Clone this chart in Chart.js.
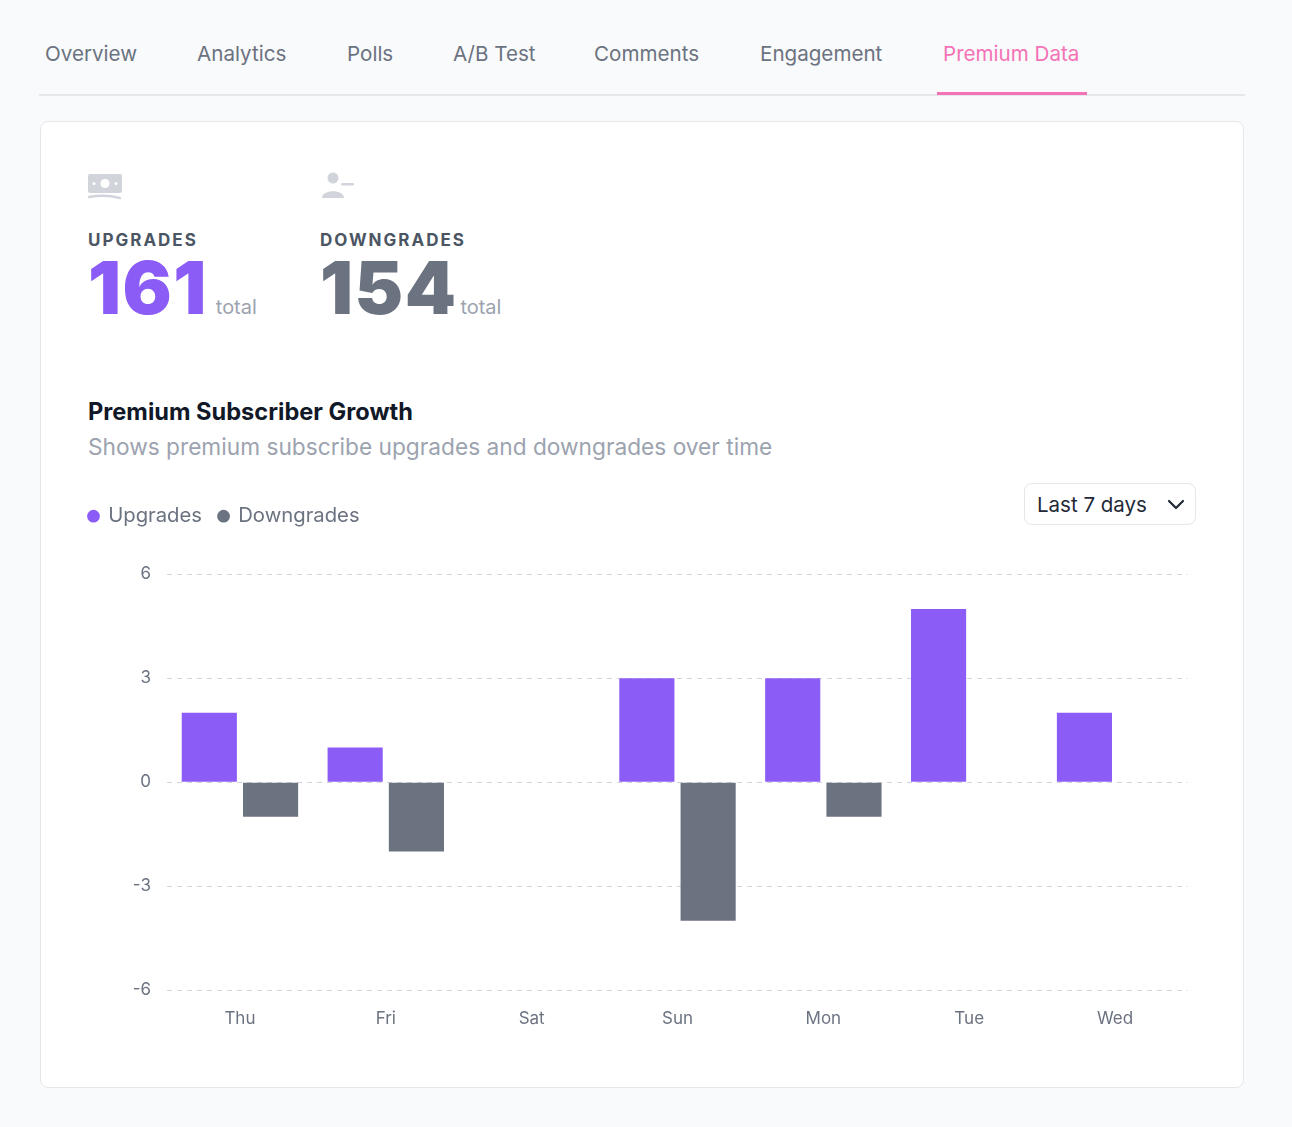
<!DOCTYPE html>
<html>
<head>
<meta charset="utf-8">
<script src="https://cdn.jsdelivr.net/npm/chart.js@4.4.1/dist/chart.umd.min.js"></script>
<style>
  html,body{margin:0;padding:0;}
  body{width:1292px;height:1127px;background:#f9fafb;font-family:"Inter","Noto Sans",sans-serif;position:relative;overflow:hidden;}
  .abs{position:absolute;white-space:nowrap;}
  .tab{font-size:20.6px;line-height:24px;top:42px;color:#6b7280;}
  .tab.active{color:#f472b6;}
  .card{position:absolute;left:40px;top:121px;width:1204px;height:967px;background:#fff;border:1px solid #e5e7eb;border-radius:8px;box-sizing:border-box;}
  .lbl{font-size:17px;font-weight:700;letter-spacing:2px;color:#4b5563;line-height:20px;top:230px;}
  .num{font-size:73px;font-weight:900;line-height:72px;top:252px;letter-spacing:1.5px;}
  .tot{font-size:20px;color:#9ca3af;font-weight:400;letter-spacing:0;}
</style>
</head>
<body>
<div class="abs tab" style="left:45px">Overview</div>
<div class="abs tab" style="left:197px">Analytics</div>
<div class="abs tab" style="left:347px">Polls</div>
<div class="abs tab" style="left:453px">A/B Test</div>
<div class="abs tab" style="left:594px">Comments</div>
<div class="abs tab" style="left:760px">Engagement</div>
<div class="abs tab active" style="left:943px">Premium Data</div>
<div class="abs" style="left:39px;top:94px;width:1206px;height:2px;background:#e5e7eb"></div>
<div class="abs" style="left:937px;top:92px;width:150px;height:3px;background:#f472b6"></div>

<div class="card"></div>

<svg class="abs" style="left:88px;top:172px" width="36" height="30" viewBox="0 0 36 30">
  <rect x="0" y="2" width="34" height="19" rx="2" fill="#d1d5db"/>
  <circle cx="17" cy="11.5" r="4.5" fill="#fff"/>
  <circle cx="6" cy="11.5" r="1.5" fill="#fff"/>
  <circle cx="28" cy="11.5" r="1.5" fill="#fff"/>
  <path d="M1 25 Q17 22 32 26" stroke="#d1d5db" stroke-width="2.4" fill="none" stroke-linecap="round"/>
</svg>
<svg class="abs" style="left:320px;top:170px" width="36" height="32" viewBox="0 0 36 32">
  <circle cx="13" cy="8" r="5.5" fill="#d1d5db"/>
  <path d="M2 28 C2 19 24 19 24 28 Z" fill="#d1d5db"/>
  <rect x="21" y="13" width="13" height="2.4" rx="1.2" fill="#d1d5db"/>
</svg>

<div class="abs lbl" style="left:88px">UPGRADES</div>
<div class="abs lbl" style="left:320px">DOWNGRADES</div>
<div class="abs num" style="left:88px;color:#8b5cf6">161<span class="tot" style="margin-left:8px">total</span></div>
<div class="abs num" style="left:320px;color:#6b7280">154<span class="tot" style="margin-left:3px">total</span></div>

<div class="abs" style="left:88px;top:398px;font-size:23.6px;line-height:28px;font-weight:700;color:#111827">Premium Subscriber Growth</div>
<div class="abs" style="left:88px;top:433px;font-size:22.7px;line-height:28px;color:#9ca3af">Shows premium subscribe upgrades and downgrades over time</div>

<div class="abs" style="left:1024px;top:483px;width:172px;height:42px;border:1px solid #e5e7eb;border-radius:8px;box-sizing:border-box;background:#fff">
  <div class="abs" style="left:12px;top:9px;font-size:20.5px;line-height:24px;color:#1f2937">Last 7 days</div>
  <svg class="abs" style="left:142px;top:12px" width="18" height="16" viewBox="0 0 18 16">
    <path d="M2 5 L9 12 L16 5" stroke="#1f2937" stroke-width="2.2" fill="none" stroke-linecap="round" stroke-linejoin="round"/>
  </svg>
</div>

<div class="abs" style="left:72px;top:489px;width:1116px;height:541px">
  <canvas id="c"></canvas>
</div>

<script>
const categories = ["Thu", "Fri", "Sat", "Sun", "Mon", "Tue", "Wed"];
const upgrades = [2, 1, 0, 3, 3, 5, 2];
const downgrades = [-1, -2, 0, -4, -1, 0, 0];
const seriesLabels = ["Upgrades", "Downgrades"];
const yMin = -6, yMax = 6, yStep = 3;

const legendSpacer = {
  id: 'legendSpacer',
  beforeLayout(chart) {
    const lg = chart.legend;
    if (lg && !lg._spacerPatched) {
      const fit = lg.fit;
      lg.fit = function () { fit.call(this); this.height += 38; };
      lg._spacerPatched = true;
    }
  }
};

new Chart(document.getElementById('c'), {
  type: 'bar',
  data: {
    labels: categories,
    datasets: [
      { label: seriesLabels[0], data: upgrades, backgroundColor: '#8b5cf6', borderWidth: 0 },
      { label: seriesLabels[1], data: downgrades, backgroundColor: '#6b7280', borderWidth: 0 }
    ]
  },
  plugins: [legendSpacer],
  options: {
    responsive: true,
    maintainAspectRatio: false,
    animation: false,
    layout: { padding: 0 },
    datasets: { bar: { categoryPercentage: 0.84, barPercentage: 0.9 } },
    plugins: {
      legend: {
        position: 'top',
        align: 'start',
        labels: {
          usePointStyle: true,
          pointStyle: 'circle',
          boxWidth: 9,
          boxHeight: 9,
          padding: 17,
          color: '#6b7280',
          font: { family: 'Inter', size: 20.3 }
        }
      },
      tooltip: { enabled: false }
    },
    scales: {
      x: {
        grid: { display: false, drawTicks: false },
        border: { display: false },
        ticks: { color: '#6b7280', padding: 19, font: { family: 'Inter', size: 17 } },
        afterFit(s) { s.height = 40; }
      },
      y: {
        min: yMin, max: yMax,
        grid: { color: '#d1d5db', drawTicks: false, lineWidth: 1 },
        border: { display: false, dash: [5, 5] },
        ticks: { stepSize: yStep, color: '#6b7280', padding: 16, font: { family: 'Inter', size: 17 } },
        afterFit(s) { s.width = 95; }
      }
    }
  }
});
</script>
</body>
</html>
